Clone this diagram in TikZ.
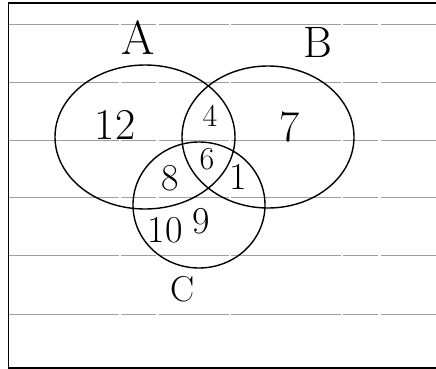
\documentclass[tikz,border=0pt]{standalone}
\usepackage{fontspec}
\begin{document}
\begin{tikzpicture}[x=1pt,y=-1pt,
	rule/.style={gray!75, line width=0.7pt, dash pattern=on 110pt off 2pt on 35pt off 3pt on 70pt off 2pt},
	setline/.style={black, line width=1.4pt},
	setlabel/.style={font=\fontsize{48}{52}\selectfont},
	region/.style={font=\fontsize{38}{42}\selectfont},
	bigregion/.style={font=\fontsize{44}{48}\selectfont}]
	\useasboundingbox (0,0) rectangle (436,369);
	% ruled lines of the sheet
	\foreach \y in {24,82,140,197,255,314}{
		\draw[rule] (9,\y) -- (436,\y);
	}
	% sheet edge
	\draw[line width=1.5pt] (436,3) -- (8.5,3) -- (8.5,368) -- (436,368);
	% the three sets
	\draw[setline] (145,137) ellipse [x radius=90, y radius=72];
	\draw[setline] (268,137) ellipse [x radius=86, y radius=71];
	\draw[setline] (199,205) ellipse [x radius=66, y radius=63];
	\node[setlabel] (labA) at (138,38) {A};
	\node[setlabel, font=\fontsize{44}{48}\selectfont] (labB) at (318,42) {B};
	\node[setlabel, font=\fontsize{36}{40}\selectfont] (labC) at (183,289) {C};
	% counts
	\node[bigregion] (n12) at (115,125) {12};
	\node[region, font=\fontsize{32}{36}\selectfont] (n4) at (210,116) {4};
	\node[bigregion] (n7) at (290,127) {7};
	\node[region, font=\fontsize{32}{36}\selectfont] (n6) at (207,159) {6};
	\node[region] (n8) at (170,178) {8};
	\node[region] (n1) at (238,177) {1};
	\node[region] (n10) at (165,230) {10};
	\node[region] (n9) at (201,221) {9};
\end{tikzpicture}
\end{document}
